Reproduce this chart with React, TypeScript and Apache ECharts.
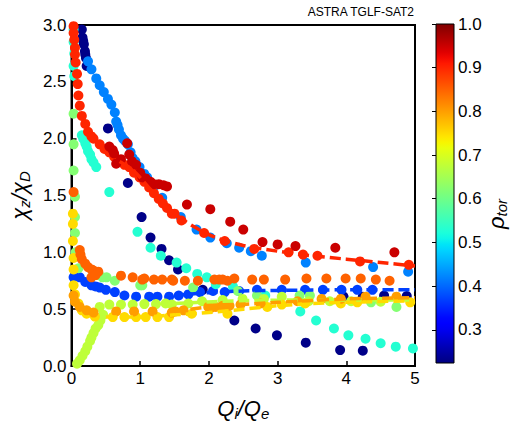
import React, { useEffect, useRef } from "react";
import * as echarts from "echarts";

const FONT = "Liberation Sans, Arial, sans-serif";
const RHO_MIN = 0.224;
const RHO_MAX = 1.0;
const xTicks = [0, 1, 2, 3, 4, 5];
const cbTicks = [0.3, 0.4, 0.5, 0.6, 0.7, 0.8, 0.9, 1.0];

// scatter groups, each at one rho_tor value: [Qi/Qe, chi_z/chi_D]
const rho023: number[][] = [
  [0.15, 2.96], [0.16, 2.89], [0.17, 2.86], [0.18, 2.83], [0.195, 2.77], [0.2, 2.74], [0.21, 2.71], [0.22, 2.64],
  [0.53, 2.09], [0.82, 1.61], [1.02, 1.31], [1.15, 1.13], [1.31, 1.03], [1.42, 0.93], [1.55, 0.85],
  [2.37, 0.4], [2.68, 0.33], [2.99, 0.27], [3.41, 0.205], [3.91, 0.14], [4.24, 0.135],
  [1.91, 0.67], [3.96, 0.61], [4.24, 0.61], [4.55, 0.62], [4.88, 0.615],
];
const rho037: number[][] = [
  [0.03, 0.78], [0.12, 0.78], [0.2, 0.74], [0.29, 0.71], [0.35, 0.7], [0.41, 0.69], [0.5, 0.67], [0.63, 0.65],
  [0.77, 0.62], [0.94, 0.61], [1.13, 0.61], [1.25, 0.61], [1.42, 0.61], [1.56, 0.62], [1.7, 0.63], [1.87, 0.65],
  [2.06, 0.66], [2.23, 0.65], [2.44, 0.66], [2.7, 0.67], [3.06, 0.67], [3.4, 0.67], [3.66, 0.67], [3.93, 0.67],
  [4.16, 0.67], [4.38, 0.67],
];
const rho042: number[][] = [
  [0.24, 2.68], [0.29, 2.61], [0.36, 2.53], [0.41, 2.47], [0.47, 2.41], [0.53, 2.35], [0.58, 2.3], [0.63, 2.23],
  [0.65, 2.15], [0.67, 2.12], [0.69, 2.08], [0.72, 2.03], [0.75, 2.0], [0.78, 1.98], [0.82, 1.95], [0.86, 1.88],
  [0.89, 1.83], [0.93, 1.8], [0.99, 1.75], [1.06, 1.69], [1.1, 1.66], [1.2, 1.58], [1.32, 1.48], [1.59, 1.31],
  [1.82, 1.2], [2.02, 1.13], [2.26, 1.08], [2.44, 1.04], [2.61, 1.01], [2.77, 0.97], [3.41, 0.91], [4.39, 0.87],
  [4.9, 0.83],
];
const rho053: number[][] = [
  [0.03, 2.96], [0.03, 2.85], [0.04, 2.75], [0.03, 2.64], [0.04, 2.55],
  [0.15, 2.03], [0.17, 2.0], [0.2, 1.96], [0.22, 1.93], [0.24, 1.89], [0.27, 1.86], [0.29, 1.82], [0.32, 1.79],
  [0.36, 1.75], [0.55, 1.53], [0.96, 1.18], [1.15, 1.04], [1.3, 0.97], [1.53, 0.91], [1.67, 0.86], [1.83, 0.81],
  [1.97, 0.78], [2.1, 0.72], [2.35, 0.7], [2.82, 0.62], [3.33, 0.48], [3.56, 0.4], [3.82, 0.33], [4.03, 0.27],
  [4.28, 0.24], [4.5, 0.2], [4.72, 0.17], [4.97, 0.155],
];
const rho062: number[][] = [
  [0.03, 2.22], [0.03, 1.95], [0.03, 1.72], [0.05, 1.49], [0.05, 1.31], [0.05, 1.17], [0.06, 1.0], [0.1, 0.86],
  [0.36, 0.8], [0.45, 0.78], [0.51, 0.78], [0.63, 0.75], [1.0, 0.71], [1.03, 0.71], [1.77, 0.69], [2.42, 0.66],
  [2.7, 0.62], [3.32, 0.62], [3.47, 0.62], [4.36, 0.56], [4.73, 0.52],
];
const rho068: number[][] = [
  [0.41, 0.52], [0.55, 0.54], [0.72, 0.54], [0.89, 0.54], [1.06, 0.545], [1.23, 0.545], [1.37, 0.55], [1.46, 0.54],
  [1.7, 0.55], [1.9, 0.57], [2.2, 0.58], [2.49, 0.59], [2.8, 0.59], [3.06, 0.61], [3.45, 0.57], [3.76, 0.57],
  [4.07, 0.57], [4.5, 0.565],
  [0.46, 0.45], [0.42, 0.4], [0.39, 0.36], [0.35, 0.33], [0.32, 0.29], [0.29, 0.25], [0.27, 0.22], [0.23, 0.17],
  [0.2, 0.13], [0.16, 0.09], [0.12, 0.05], [0.08, 0.02],
];
const rho075: number[][] = [
  [0.02, 1.34], [0.02, 1.25], [0.02, 1.1], [0.03, 0.95], [0.03, 0.85], [0.03, 0.71], [0.05, 0.63], [0.1, 0.55],
  [0.15, 0.49], [0.22, 0.46], [0.34, 0.435], [0.6, 0.43], [0.77, 0.43], [0.94, 0.43], [1.08, 0.43], [1.25, 0.43],
  [1.42, 0.43], [1.75, 0.46], [2.27, 0.46], [2.85, 0.52], [3.06, 0.54], [3.4, 0.55], [3.92, 0.55], [4.16, 0.56],
  [4.93, 0.56],
];
const rho080: number[][] = [
  [0.03, 0.62], [0.05, 0.565], [0.12, 0.52], [0.22, 0.49], [0.32, 0.47], [0.65, 0.48], [0.91, 0.48], [1.18, 0.48],
  [1.46, 0.47], [1.51, 0.48], [1.63, 0.49], [1.99, 0.52], [2.03, 0.51], [2.1, 0.52], [2.2, 0.53], [2.3, 0.53],
  [2.46, 0.54], [2.75, 0.55], [3.29, 0.57], [3.64, 0.59], [3.92, 0.59], [4.28, 0.61], [4.73, 0.61],
];
const rho085: number[][] = [
  [0.03, 1.53], [0.12, 1.02], [0.13, 0.98], [0.15, 0.94], [0.2, 0.9], [0.24, 0.87], [0.29, 0.85], [0.32, 0.84],
  [0.39, 0.83], [0.29, 0.78], [0.35, 0.8], [0.72, 0.795], [0.89, 0.78], [1.03, 0.76], [1.06, 0.77], [1.2, 0.76],
  [1.32, 0.76], [1.46, 0.76], [1.48, 0.75], [1.65, 0.75], [1.84, 0.75], [2.08, 0.76], [2.15, 0.76], [2.2, 0.76],
  [2.27, 0.75], [2.37, 0.77], [2.63, 0.76], [2.8, 0.76], [3.11, 0.76], [3.42, 0.77], [3.71, 0.77], [3.99, 0.77],
  [4.21, 0.77], [4.43, 0.76], [4.63, 0.75],
];
const rho090: number[][] = [
  [0.03, 2.99], [0.03, 2.93], [0.04, 2.87], [0.05, 2.8], [0.05, 2.74], [0.06, 2.67], [0.08, 2.57], [0.09, 2.48],
  [0.1, 2.38], [0.12, 2.29], [0.15, 2.2], [0.2, 2.13], [0.24, 2.06], [0.29, 2.02], [0.32, 2.0], [0.41, 1.95],
  [0.48, 1.91], [0.55, 1.88], [0.62, 1.84], [0.7, 1.8], [0.77, 1.77], [0.84, 1.75], [0.91, 1.7], [0.99, 1.66],
  [1.06, 1.62], [1.13, 1.57], [1.2, 1.52], [1.27, 1.47], [1.33, 1.43], [1.39, 1.39], [1.46, 1.34], [1.5, 1.34],
  [1.6, 1.28], [1.93, 1.17], [2.23, 1.1], [2.66, 1.03], [3.16, 1.0], [3.37, 0.98], [3.58, 0.97], [4.2, 0.92],
  [4.91, 0.89],
];
const rho095: number[][] = [
  [0.55, 1.93], [0.6, 1.9], [0.62, 1.87], [0.65, 1.78], [0.72, 1.82], [0.81, 1.96], [0.84, 1.86], [0.88, 1.8],
  [0.94, 1.77], [1.0, 1.7], [1.03, 1.66], [1.08, 1.65], [1.15, 1.62], [1.2, 1.6], [1.27, 1.6], [1.34, 1.59],
  [1.39, 1.58], [1.68, 1.42], [2.02, 1.38], [2.31, 1.27], [2.5, 1.2], [2.78, 1.09], [3.0, 1.07], [3.26, 1.055],
  [3.84, 1.04], [4.7, 1.0],
];

const groups: { rho: number; pts: number[][] }[] = [
  { rho: 0.23, pts: rho023 },
  { rho: 0.37, pts: rho037 },
  { rho: 0.42, pts: rho042 },
  { rho: 0.53, pts: rho053 },
  { rho: 0.62, pts: rho062 },
  { rho: 0.675, pts: rho068 },
  { rho: 0.75, pts: rho075 },
  { rho: 0.8, pts: rho080 },
  { rho: 0.85, pts: rho085 },
  { rho: 0.9, pts: rho090 },
  { rho: 0.95, pts: rho095 },
];

// dashed fits
const fit037: number[][] = [[1.5, 0.62], [2.0, 0.645], [2.5, 0.66], [3.0, 0.665], [4.0, 0.67], [5.0, 0.67]];
const fit068: number[][] = [[1.5, 0.55], [2.5, 0.575], [3.5, 0.58], [5.0, 0.58]];
const fit075: number[][] = [[0.5, 0.43], [1.0, 0.43], [1.5, 0.45], [2.0, 0.47], [2.5, 0.5], [3.0, 0.53], [3.5, 0.55], [4.0, 0.56], [5.0, 0.575]];
const fit080: number[][] = [[1.5, 0.48], [2.0, 0.52], [3.0, 0.56], [4.0, 0.59], [5.0, 0.6]];
const fit090: number[][] = [[0.7, 1.8], [0.9, 1.72], [1.2, 1.52], [1.5, 1.34], [1.8, 1.22], [2.1, 1.13], [2.5, 1.06], [3.0, 1.01], [3.5, 0.97], [4.0, 0.94], [4.5, 0.91], [5.0, 0.88]];

const fits: { rho: number; pts: number[][] }[] = [
  { rho: 0.37, pts: fit037 },
  { rho: 0.675, pts: fit068 },
  { rho: 0.75, pts: fit075 },
  { rho: 0.8, pts: fit080 },
  { rho: 0.9, pts: fit090 },
];

function seg(t: number, pts: number[][]) {
  for (let i = 1; i < pts.length; i++) {
    if (t <= pts[i][0]) {
      const [x0, y0] = pts[i - 1];
      const [x1, y1] = pts[i];
      return y0 + ((t - x0) / (x1 - x0)) * (y1 - y0);
    }
  }
  return pts[pts.length - 1][1];
}
function jet(t: number) {
  t = Math.max(0, Math.min(1, t));
  const r = seg(t, [[0, 0], [0.35, 0], [0.66, 1], [0.89, 1], [1, 0.5]]);
  const g = seg(t, [[0, 0], [0.125, 0], [0.375, 1], [0.64, 1], [0.91, 0], [1, 0]]);
  const b = seg(t, [[0, 0.5], [0.11, 1], [0.34, 1], [0.65, 0], [1, 0]]);
  const h = (v: number) => Math.round(v * 255).toString(16).padStart(2, "0");
  return "#" + h(r) + h(g) + h(b);
}
const rhoColor = (rho: number) => jet((rho - RHO_MIN) / (RHO_MAX - RHO_MIN));

export default function App() {
  const ref = useRef<HTMLDivElement>(null);
  useEffect(() => {
    if (!ref.current) return;
    const chart = echarts.init(ref.current, null, { renderer: "svg" });
    const stops = [] as { offset: number; color: string }[];
    for (let i = 0; i <= 60; i++) stops.push({ offset: i / 60, color: jet(i / 60) });

    const scatter = groups.map((g) => ({
      type: "scatter",
      xAxisIndex: 0,
      yAxisIndex: 0,
      data: g.pts,
      symbolSize: 10,
      itemStyle: { color: rhoColor(g.rho), opacity: 1 },
      silent: true,
    }));
    const lines = fits.map((f) => ({
      type: "line",
      xAxisIndex: 0,
      yAxisIndex: 0,
      data: f.pts,
      smooth: 0.3,
      showSymbol: false,
      lineStyle: { color: rhoColor(f.rho), width: 3.5, type: [11, 5] },
      silent: true,
    }));

    const axisCommon = {
      axisLine: { show: true, lineStyle: { color: "#000", width: 2 } },
      axisTick: { show: true, inside: true, length: 5, lineStyle: { color: "#000", width: 1.5 } },
      splitLine: { show: false },
    };
    const nameRich = {
      a: { fontSize: 22, fontStyle: "italic", fontFamily: FONT, color: "#000", lineHeight: 26, verticalAlign: "middle" },
      b: { fontSize: 15, fontStyle: "italic", fontFamily: FONT, color: "#000", lineHeight: 15, verticalAlign: "bottom" },
    };

    chart.setOption({
      animation: false,
      grid: [
        { left: 67, right: 95, top: 25, bottom: 54, show: true, borderColor: "#000", borderWidth: 2, backgroundColor: "#fff" },
        { left: 436, width: 18, top: 24, bottom: 63 },
      ],
      xAxis: [
        {
          gridIndex: 0, type: "value", min: 0, max: 5, interval: 1, ...axisCommon,
          axisLabel: { color: "#000", fontSize: 17, fontFamily: FONT, margin: 4, formatter: (v: number) => String(v), customValues: xTicks },
          name: "{a|Q}{b|i}{a|/Q}{b|e}", nameLocation: "middle", nameGap: 29,
          nameTextStyle: { fontFamily: FONT, rich: nameRich },
        },
        { gridIndex: 1, type: "value", min: 0, max: 1, show: false },
      ],
      yAxis: [
        {
          gridIndex: 0, type: "value", min: 0, max: 3, interval: 0.5, ...axisCommon,
          axisLabel: { color: "#000", fontSize: 17, fontFamily: FONT, margin: 5, formatter: (v: number) => v.toFixed(1) },
          name: "{a|χ}{b|z}{a|/χ}{b|D}", nameLocation: "middle", nameGap: 35, nameRotate: 90,
          nameTextStyle: { fontFamily: FONT, rich: nameRich },
        },
        {
          gridIndex: 1, type: "value", min: RHO_MIN, max: RHO_MAX, position: "right",
          axisLine: { show: false },
          splitLine: { show: false },
          axisTick: { show: true, inside: true, length: 4, customValues: cbTicks, lineStyle: { color: "#000", width: 1 } },
          axisLabel: { color: "#000", fontSize: 17, fontFamily: FONT, margin: 4, customValues: cbTicks, formatter: (v: number) => v.toFixed(1) },
        },
      ],
      graphic: [
        {
          type: "text", x: 414, y: 12,
          style: { text: "ASTRA TGLF-SAT2", fontSize: 12, fontFamily: FONT, fill: "#000", align: "right", verticalAlign: "middle" },
        },
        {
          type: "text", x: 496, y: 214, rotation: Math.PI / 2,
          style: {
            text: "{a|ρ}{b|tor}", align: "center", verticalAlign: "middle",
            rich: {
              a: { fontSize: 22, fontStyle: "italic", fontFamily: FONT, fill: "#000", lineHeight: 26, verticalAlign: "middle" },
              b: { fontSize: 15, fontStyle: "italic", fontFamily: FONT, fill: "#000", lineHeight: 15, verticalAlign: "bottom" },
            },
          },
        },
      ],
      series: [
        ...scatter,
        ...lines,
        {
          type: "custom",
          xAxisIndex: 1,
          yAxisIndex: 1,
          data: [[0, 1, RHO_MIN, RHO_MAX]],
          encode: { x: [0, 1], y: [2, 3] },
          silent: true,
          renderItem: (params: any, api: any) => {
            const p0 = api.coord([api.value(0), api.value(2)]);
            const p1 = api.coord([api.value(1), api.value(3)]);
            return {
              type: "rect",
              shape: { x: p0[0], y: p1[1], width: p1[0] - p0[0], height: p0[1] - p1[1] },
              style: { fill: new echarts.graphic.LinearGradient(0, 1, 0, 0, stops), stroke: "#000", lineWidth: 1 },
            };
          },
        },
      ],
    });
    return () => chart.dispose();
  }, []);
  return <div ref={ref} style={{ position: "fixed", left: 0, top: 0, width: 510, height: 426, background: "#fff" }} />;
}
